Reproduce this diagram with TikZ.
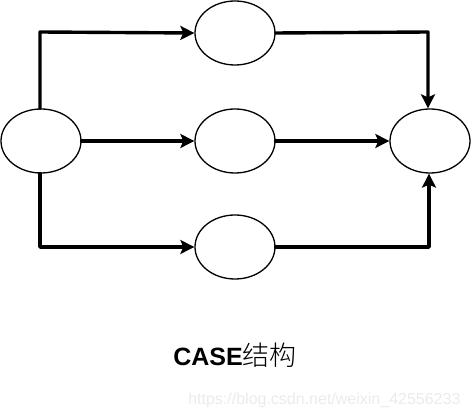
\documentclass[tikz,border=0pt]{standalone}
\usepackage{fontspec}
\setmainfont{Liberation Sans}
\newfontfamily\cjk{Noto Sans CJK SC Light}
\usetikzlibrary{arrows.meta,shapes.geometric}
\begin{document}
\begin{tikzpicture}[x=1pt,y=-1pt,
  blob/.style={draw,ellipse,line width=1.3pt,minimum width=80pt,minimum height=64pt,inner sep=0pt},
  link/.style={line width=3.4pt,line cap=round,line join=round,-{Stealth[length=14pt,width=14pt,inset=3pt]}}]
\useasboundingbox (0,0) rectangle (472,419);
\node[blob] (L) at (41,141) {};
\node[blob] (T) at (235,33) {};
\node[blob] (M) at (235,141) {};
\node[blob] (B) at (235,247) {};
\node[blob] (R) at (430,141) {};
\coordinate (tl) at (40,32);
\coordinate (tr) at (428,32);
\coordinate (bl) at (40,247);
\coordinate (br) at (429,247);
\draw[link] (L.north -| tl) -- (tl) -- (T.west);
\draw[link] (L.east) -- (M.west);
\draw[link] (L.south -| bl) -- (bl) -- (B.west);
\draw[link] (T.east) -- (tr) -- (tr |- R.north);
\draw[link] (M.east) -- (R.west);
\draw[link] (B.east) -- (br) -- (br |- R.south);
\node[font=\fontsize{25}{28}\selectfont] (cap) at (235,355) {\textbf{CASE}{\cjk\fontsize{27}{30}\selectfont 结构}};
\node[font=\fontsize{16}{18}\selectfont,text=black!8,anchor=east] (wm) at (464,400) {https://blog.csdn.net/weixin\_42556233};
\end{tikzpicture}
\end{document}
